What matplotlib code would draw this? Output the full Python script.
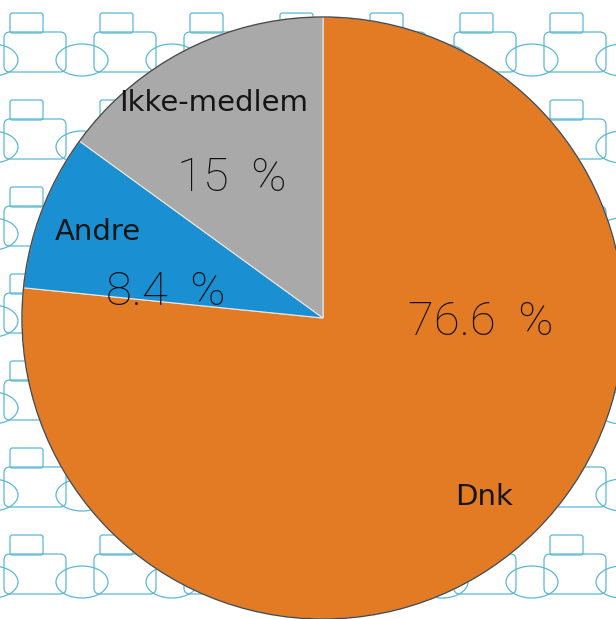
import matplotlib.pyplot as plt
from matplotlib.patches import Circle, FancyBboxPatch, Ellipse
import numpy as np

# Data
labels = ["Dnk", "Andre", "Ikke-medlem"]
shares = [76.6, 8.4, 15.0]
pct_labels = ["76.6  %", "8.4  %", "15  %"]
colors = ["#E37B25", "#1A8FD1", "#A9A9A9"]

# Figure: axes fill the whole canvas, 1 data unit = 301 px, centre at (323, 318) px
fig = plt.figure(figsize=(6.16, 6.19), dpi=100)
ax = fig.add_axes([0, 0, 1, 1])


def px(x, y):
    # pixel (from top-left) -> data coords
    return (x - 323) / 301, (318 - y) / 301


u = 1 / 301

# Background speech-bubble pattern
line_kw = dict(fill=False, edgecolor="#5DB6D6", linewidth=0.9, zorder=0)
for ty in np.arange(-87, 619 + 87, 87):
    for tx in np.arange(-90, 616 + 90, 90):
        ax.add_patch(FancyBboxPatch(px(tx + 10, ty + 33), 33 * u, 20 * u,
                                    boxstyle="round,pad=0,rounding_size=0.008", **line_kw))
        ax.add_patch(FancyBboxPatch(px(tx + 4, ty + 72), 62 * u, 40 * u,
                                    boxstyle="round,pad=0,rounding_size=0.02", **line_kw))
        ax.add_patch(Ellipse(px(tx + 82, ty + 60), 52 * u, 32 * u, **line_kw))

# Pie
wedges, _ = ax.pie(shares, colors=colors, startangle=90, counterclock=False,
                   radius=1.0, center=(0, 0), frame=True,
                   wedgeprops=dict(edgecolor="#E8E8E8", linewidth=0.8))
for w in wedges:
    w.set_zorder(2)
ax.add_patch(Circle((0, 0), 1.0, fill=False, edgecolor="#4A4A4A", linewidth=1.0, zorder=3))
ax.set_xlim(-323 / 301, (616 - 323) / 301)
ax.set_ylim(-301 / 301, 318 / 301)
ax.set_aspect("auto")
ax.axis("off")

# Category labels at 0.8 of the radius, on each wedge's middle angle
angles = 90 - 360 * (np.cumsum(shares) - np.array(shares) / 2) / 100
for lab, a in zip(labels, angles):
    r = 0.8
    ax.text(r * np.cos(np.radians(a)), r * np.sin(np.radians(a)), lab,
            ha="center", va="center", fontsize=21, family="DejaVu Sans",
            color="#151515", zorder=4)

# Percent labels
pct_pos = [(0.525, -1.5), (0.53, 170.7), (0.555, 123.0)]
for txt, (r, a) in zip(pct_labels, pct_pos):
    ax.text(r * np.cos(np.radians(a)), r * np.sin(np.radians(a)), txt,
            ha="center", va="center", fontsize=34, family="Roboto",
            fontweight="light", color="#111111", zorder=4)

fig.savefig("out.png", dpi=100)
